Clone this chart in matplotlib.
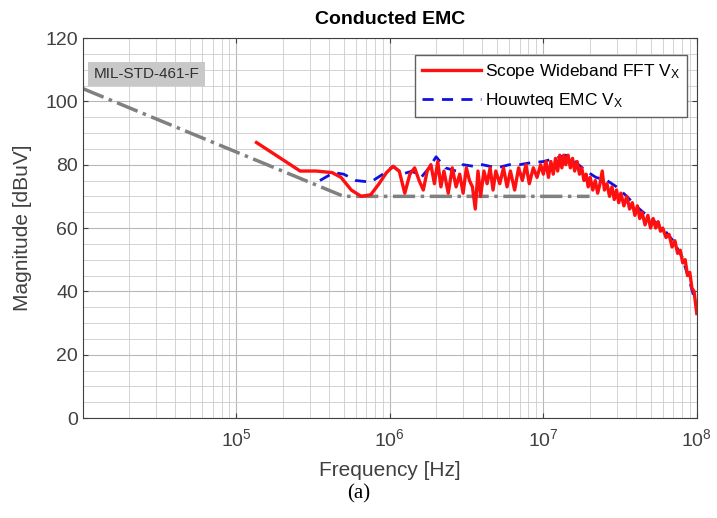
import numpy as np
import matplotlib.pyplot as plt
from matplotlib.ticker import LogLocator, MultipleLocator

plt.rcParams["font.family"] = ["Liberation Sans", "DejaVu Sans"]
plt.rcParams["mathtext.fontset"] = "custom"
plt.rcParams["mathtext.rm"] = "Liberation Sans"
plt.rcParams["mathtext.it"] = "Liberation Sans:italic"

# MIL-STD-461-F CE102 limit
limit_freq = [1e4, 5e5, 2e7]
limit_db = [104, 70, 70]

# Scope wideband FFT
scope_freq = [
    1.35e5, 2.6e5, 3.3e5, 4.2e5, 4.8e5, 5.6e5, 6.5e5, 7.5e5, 8.5e5, 9.5e5,
    1.05e6, 1.15e6, 1.25e6, 1.35e6, 1.45e6, 1.55e6, 1.65e6, 1.75e6, 1.85e6, 1.95e6,
    2.05e6, 2.15e6, 2.25e6, 2.4e6, 2.55e6, 2.7e6, 2.85e6, 3.0e6, 3.15e6, 3.3e6,
    3.45e6, 3.6e6, 3.75e6, 3.9e6, 4.1e6, 4.3e6, 4.5e6, 4.7e6, 4.9e6, 5.2e6,
    5.5e6, 5.8e6, 6.1e6, 6.5e6, 6.9e6, 7.3e6, 7.7e6, 8.1e6, 8.6e6, 9.1e6,
    9.6e6, 1.0e7, 1.04e7, 1.08e7, 1.12e7, 1.16e7, 1.2e7, 1.24e7, 1.28e7, 1.32e7,
    1.36e7, 1.4e7, 1.45e7, 1.5e7, 1.55e7, 1.6e7, 1.66e7, 1.72e7, 1.78e7, 1.84e7,
    1.9e7, 1.96e7, 2.02e7, 2.1e7, 2.18e7, 2.26e7, 2.34e7, 2.42e7, 2.5e7, 2.6e7,
    2.7e7, 2.8e7, 2.9e7, 3.0e7, 3.1e7, 3.2e7, 3.35e7, 3.5e7, 3.65e7, 3.8e7,
    3.95e7, 4.1e7, 4.25e7, 4.4e7, 4.6e7, 4.8e7, 5.0e7, 5.2e7, 5.4e7, 5.6e7,
    5.8e7, 6.0e7, 6.3e7, 6.6e7, 6.9e7, 7.2e7, 7.5e7, 7.8e7, 8.1e7, 8.4e7,
    8.7e7, 9.0e7, 9.3e7, 9.6e7, 1.0e8,
]
scope_db = [
    87, 78, 78, 77.5, 76, 72, 70, 70.5, 74, 77.5,
    79.5, 78, 71, 77, 79, 75, 72, 78, 80, 74,
    81, 73, 78, 71, 79, 73, 77, 71, 79, 75,
    73, 66, 78, 70, 78, 74, 79, 72, 78, 74,
    79, 73, 78, 72, 79, 75, 80, 74, 79, 76,
    80, 77, 81, 76, 81, 77, 82, 78, 83, 79,
    83, 80, 83, 79, 82, 78, 81, 77, 79, 75,
    77, 73, 76, 72, 75, 71, 74, 78, 72, 74,
    70, 73, 69, 72, 68, 71, 67, 70, 66, 68,
    64, 67, 63, 65, 61, 64, 60, 63, 60, 62,
    59, 60, 57, 58, 54, 56, 52, 53, 49, 50,
    45, 46, 41, 40, 33,
]

# Houwteq EMC receiver
houwteq_freq = [
    3.5e5, 4.3e5, 5.0e5, 6.0e5, 7.5e5, 9.0e5, 1.05e6, 1.2e6, 1.4e6, 1.6e6,
    1.8e6, 2.0e6, 2.3e6, 2.7e6, 3.0e6, 3.5e6, 4.0e6, 5.0e6, 6.0e6, 7.0e6,
    8.0e6, 1.0e7, 1.2e7, 1.4e7, 1.6e7, 1.9e7, 2.2e7, 2.6e7, 3.0e7, 3.5e7,
    4.0e7, 5.0e7, 6.0e7, 7.0e7, 8.0e7, 9.0e7, 1.0e8,
]
houwteq_db = [
    75, 77.5, 77, 75, 74.5, 77, 79.5, 77, 78, 76,
    79, 82.5, 79, 78, 80, 79.5, 80, 79, 80, 80,
    80.5, 81, 82, 83, 81, 78, 76, 75, 73, 70,
    67, 63, 60, 56, 51, 43, 35,
]

fig = plt.figure(figsize=(7.17, 5.18), dpi=100)
ax = fig.add_axes([0.1158, 0.193, 0.856, 0.7336])

ax.semilogx(limit_freq, limit_db, color="#808080", linestyle="-.", linewidth=2.5)
h_blue, = ax.semilogx(houwteq_freq, houwteq_db, color="#1010e0", linestyle="--",
                      linewidth=2, dashes=(4, 3))
h_red, = ax.semilogx(scope_freq, scope_db, color="#ff1010", linewidth=2.4)

ax.set_xlim(1e4, 1e8)
ax.set_ylim(0, 120)
ax.set_xticks([1e5, 1e6, 1e7, 1e8])
ax.xaxis.set_minor_locator(LogLocator(base=10, subs=np.arange(2, 10), numticks=20))
ax.yaxis.set_major_locator(MultipleLocator(20))
ax.yaxis.set_minor_locator(MultipleLocator(5))
ax.grid(which="major", color="#b8b8b8", linewidth=0.8)
ax.grid(which="minor", color="#cccccc", linewidth=0.6)
ax.tick_params(which="both", direction="in", top=True, right=True, colors="#404040",
               labelsize=14, labelcolor="#404040")
ax.tick_params(axis="x", pad=7)
ax.tick_params(which="minor", length=0)
for s in ax.spines.values():
    s.set_color("#404040")

ax.set_xlabel("Frequency [Hz]", fontsize=15, color="#404040", labelpad=8)
ax.set_ylabel("Magnitude [dBuV]", fontsize=15, color="#404040", labelpad=10)
ax.set_title("Conducted EMC", fontsize=14, fontweight="bold", pad=10)

ax.text(0.017, 0.905, "MIL-STD-461-F", transform=ax.transAxes, fontsize=11,
        color="#303030", va="center", ha="left",
        bbox=dict(boxstyle="square,pad=0.35", facecolor="#c8c8c8", edgecolor="none"))

leg = ax.legend([h_red, h_blue], ["Scope Wideband FFT V$_\\mathrm{X}$",
                                  "Houwteq EMC V$_\\mathrm{X}$"],
                loc="upper right", fontsize=12.5, handlelength=3.4, handletextpad=0.2,
                labelspacing=0.6, fancybox=False, framealpha=1, edgecolor="#606060",
                bbox_to_anchor=(0.99, 0.965), borderaxespad=0.2)

fig.text(0.5, 0.047, "(a)", ha="center", va="center", fontsize=15,
         family="Liberation Serif")

fig.savefig("out.png", dpi=100)
